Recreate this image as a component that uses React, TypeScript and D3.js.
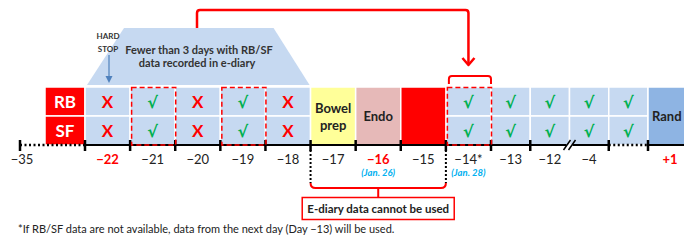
import React, { useEffect, useRef } from "react";
import * as d3 from "d3";

// Day labels under each column (left to right)
const days = ["−22", "−21", "−20", "−19", "−18", "−17", "−16", "−15", "−14*", "−13", "−12", "−4", "", "+1"];
const redDays = ["−22", "−16", "+1"];
const rbMarks = ["X", "√", "X", "√", "X", "", "", "", "√", "√", "√", "√", "√", ""];
const sfMarks = ["X", "√", "X", "√", "X", "", "", "", "√", "√", "√", "√", "√", ""];
const rows = ["RB", "SF"];
const dashedCols = [1, 3, 8];
const blockCols = ["Bowel prep", "Endo", "", "Rand"];
const blockIdx = [5, 6, 7, 13];
const dateNotes = ["(Jan. 26)", "(Jan. 28)"];
const dateIdx = [6, 8];

const FONT = "Lato, 'Open Sans', sans-serif";

const App = () => {
  const svgRef = useRef(null);

  useEffect(() => {
    const width = 684;
    const height = 241;

    // column index -> x (columns on the right are narrower)
    const x = d3.scaleLinear().domain([-1, 0, 9, 13, 14]).range([20, 85, 491, 648, 692]);
    const y = d3.scaleBand().domain(rows).range([87, 145]);
    const axisY = 145;

    const svg = d3.select(svgRef.current);
    svg.selectAll("*").remove();
    svg.attr("width", width).attr("height", height).style("font-family", FONT);

    // Trapezoid callout
    const tb = axisY - 60;
    svg
      .append("path")
      .attr("d", `M${x(0) + 2},${tb} L${x(0) + 39},28 L${x(5) - 37},28 L${x(5) - 1},${tb} Z`)
      .attr("fill", "#C6D9F1");

    svg
      .append("text")
      .attr("x", 199)
      .attr("y", 54)
      .attr("text-anchor", "middle")
      .attr("font-size", 11)
      .attr("font-weight", 700)
      .attr("fill", "#333")
      .text("Fewer than 3 days with RB/SF");
    svg
      .append("text")
      .attr("x", 197)
      .attr("y", 67)
      .attr("text-anchor", "middle")
      .attr("font-size", 11)
      .attr("font-weight", 700)
      .attr("fill", "#333")
      .text("data recorded in e-diary");

    // HARD STOP
    ["HARD", "STOP"].forEach((t, i) => {
      svg
        .append("text")
        .attr("x", 108)
        .attr("y", 39 + i * 13)
        .attr("text-anchor", "middle")
        .attr("font-size", 8)
        .attr("font-weight", 700)
        .attr("fill", "#333")
        .text(t);
    });
    svg
      .append("line")
      .attr("x1", 109)
      .attr("x2", 109)
      .attr("y1", 55)
      .attr("y2", 80)
      .attr("stroke", "#4F81BD")
      .attr("stroke-width", 1.2);
    svg
      .append("path")
      .attr("d", "M105.5,76 L109,83 L112.5,76 Z")
      .attr("fill", "#4F81BD");

    // RB / SF labels
    rows.forEach((r) => {
      svg
        .append("rect")
        .attr("x", x(0) - 40)
        .attr("y", y(r))
        .attr("width", 40)
        .attr("height", y.bandwidth())
        .attr("fill", "#FF0000")
        .attr("stroke", "#fff")
        .attr("stroke-width", 1.5);
      svg
        .append("text")
        .attr("x", x(0) - 20)
        .attr("y", y(r) + y.bandwidth() / 2 + 6)
        .attr("text-anchor", "middle")
        .attr("font-size", 17)
        .attr("font-weight", 700)
        .attr("fill", "#fff")
        .text(r);
    });

    // Regular cells
    const marks = [rbMarks, sfMarks];
    days.forEach((d, i) => {
      if (blockIdx.includes(i)) return;
      rows.forEach((r, ri) => {
        svg
          .append("rect")
          .attr("x", x(i))
          .attr("y", y(r))
          .attr("width", x(i + 1) - x(i))
          .attr("height", y.bandwidth())
          .attr("fill", "#C6D9F1")
          .attr("stroke", "#fff")
          .attr("stroke-width", 1.5);
        const m = marks[ri][i];
        if (m) {
          svg
            .append("text")
            .attr("x", (x(i) + x(i + 1)) / 2)
            .attr("y", y(r) + y.bandwidth() / 2 + 6)
            .attr("text-anchor", "middle")
            .attr("font-size", m === "X" ? 17 : 16)
            .attr("font-weight", 700)
            .attr("font-family", m === "X" ? FONT : "'DejaVu Sans', sans-serif")
            .attr("fill", m === "X" ? "#FF0000" : "#00B050")
            .text(m);
        }
      });
    });

    // Merged block cells
    const blockFill = ["#FFFF99", "#E6B9B8", "#FF0000", "#8EB4E3"];
    blockCols.forEach((b, k) => {
      const i = blockIdx[k];
      svg
        .append("rect")
        .attr("x", x(i))
        .attr("y", 87)
        .attr("width", x(i + 1) - x(i))
        .attr("height", axisY - 87)
        .attr("fill", blockFill[k])
        .attr("stroke", "#fff")
        .attr("stroke-width", 1.5);
      const words = b === "Bowel prep" ? ["Bowel", "prep"] : b ? [b] : [];
      words.forEach((w, wi) => {
        svg
          .append("text")
          .attr("x", b === "Rand" ? x(i) + 4 : (x(i) + x(i + 1)) / 2)
          .attr("y", 121 + (wi - (words.length - 1) / 2) * 17)
          .attr("text-anchor", b === "Rand" ? "start" : "middle")
          .attr("font-size", 13)
          .attr("font-weight", 700)
          .attr("fill", "#222")
          .text(w);
      });
    });

    // Axis line
    const axis = svg.append("g").attr("stroke", "#000");
    const seg = (a, b, dotted) =>
      axis
        .append("line")
        .attr("x1", a)
        .attr("x2", b)
        .attr("y1", axisY)
        .attr("y2", axisY)
        .attr("stroke-width", dotted ? 2.5 : 2)
        .attr("stroke-dasharray", dotted ? "2,2.5" : null);
    seg(x(-1), x(0), true);
    seg(x(0), x(11) - 3, false);
    seg(x(11) + 3, x(12), false);
    seg(x(12), x(13), true);
    seg(x(13), width, false);
    // break marks
    [-3, 2].forEach((o) => {
      axis
        .append("line")
        .attr("x1", x(11) + o - 3)
        .attr("x2", x(11) + o + 4)
        .attr("y1", axisY + 5)
        .attr("y2", axisY - 5)
        .attr("stroke-width", 1.5);
    });
    // ticks
    d3.range(-1, 14)
      .filter((i) => i !== 11)
      .forEach((i) => {
        axis
          .append("line")
          .attr("x1", x(i))
          .attr("x2", x(i))
          .attr("y1", axisY - 5)
          .attr("y2", axisY + 6)
          .attr("stroke-width", 2.5);
      });

    // Dashed highlight boxes
    dashedCols.forEach((i) => {
      svg
        .append("rect")
        .attr("x", x(i) + 1.5)
        .attr("y", 87.5)
        .attr("width", x(i + 1) - x(i) - 1)
        .attr("height", axisY - 87.5)
        .attr("fill", "none")
        .attr("stroke", "#FF0000")
        .attr("stroke-width", 1.5)
        .attr("stroke-dasharray", "5,3");
    });

    // Tick labels
    svg
      .append("text")
      .attr("x", x(-1) + 2)
      .attr("y", 164)
      .attr("text-anchor", "middle")
      .attr("font-size", 13)
      .attr("fill", "#222")
      .text("−35");
    days.forEach((d, i) => {
      if (!d) return;
      const red = redDays.includes(d);
      svg
        .append("text")
        .attr("x", (x(i) + x(i + 1)) / 2)
        .attr("y", 164)
        .attr("text-anchor", "middle")
        .attr("font-size", 13)
        .attr("font-weight", red ? 700 : 400)
        .attr("fill", red ? "#FF0000" : "#222")
        .text(d);
    });
    dateNotes.forEach((t, k) => {
      const i = dateIdx[k];
      svg
        .append("text")
        .attr("x", (x(i) + x(i + 1)) / 2)
        .attr("y", 176)
        .attr("text-anchor", "middle")
        .attr("font-size", 9.5)
        .attr("font-style", "italic")
        .attr("font-weight", 700)
        .attr("fill", "#00B0F0")
        .text(t);
    });

    // Top connector arrow to Day -14
    const red = svg
      .append("g")
      .attr("fill", "none")
      .attr("stroke", "#FF0000")
      .attr("stroke-width", 2.5)
      .attr("stroke-linejoin", "round");
    const cx14 = (x(8) + x(9)) / 2;
    red.append("path").attr("d", `M197,28 V13 Q197,10 200,10 H${cx14 - 3} Q${cx14},10 ${cx14},13 V65`);
    red.append("path").attr("d", `M${cx14 - 6},58 L${cx14},65 L${cx14 + 6},58`);
    red
      .append("path")
      .attr("d", `M${x(8) + 3},84 V79 Q${x(8) + 3},76 ${x(8) + 6},76 H${x(9) - 3} Q${x(9)},76 ${x(9)},79 V84`)
      .attr("stroke-width", 2);

    // Bottom bracket: days whose e-diary data cannot be used
    [5, 8].forEach((i) => {
      svg
        .append("line")
        .attr("x1", x(i))
        .attr("x2", x(i))
        .attr("y1", 150)
        .attr("y2", 183)
        .attr("stroke", "#000")
        .attr("stroke-width", 2)
        .attr("stroke-dasharray", "2,2");
    });
    const bx0 = x(5);
    const bx1 = x(8);
    const bmid = (bx0 + bx1) / 2;
    red
      .append("path")
      .attr("d", `M${bx0},183 Q${bx0},188 ${bx0 + 5},188 H${bx1 - 5} Q${bx1},188 ${bx1},183`)
      .attr("stroke-width", 2);
    red.append("path").attr("d", `M${bmid},188 V197`).attr("stroke-width", 2);
    svg
      .append("rect")
      .attr("x", bmid - 76)
      .attr("y", 197.5)
      .attr("width", 152)
      .attr("height", 22)
      .attr("fill", "#fff")
      .attr("stroke", "#FF0000")
      .attr("stroke-width", 1.5);
    svg
      .append("text")
      .attr("x", bmid)
      .attr("y", 213)
      .attr("text-anchor", "middle")
      .attr("font-size", 11.5)
      .attr("font-weight", 700)
      .attr("fill", "#222")
      .text("E-diary data cannot be used");

    // Footnote
    svg
      .append("text")
      .attr("x", 18)
      .attr("y", 233)
      .attr("font-size", 11)
      .attr("fill", "#222")
      .text("*If RB/SF data are not available, data from the next day (Day −13) will be used.");
  }, []);

  return <svg ref={svgRef} style={{ position: "absolute", left: 0, top: 0 }}></svg>;
};

export default App;
